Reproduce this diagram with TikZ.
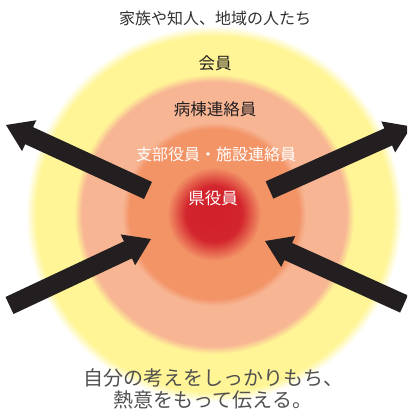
\documentclass[tikz,border=0pt]{standalone}
\usepackage{fontspec}
\newfontfamily\jp{Noto Sans CJK JP}
\usetikzlibrary{calc}
\definecolor{inktop}{RGB}{51,48,48}
\definecolor{inkdark}{RGB}{35,31,32}
\definecolor{inkbottom}{RGB}{80,80,80}
\definecolor{arrowink}{RGB}{35,31,32}
\pgfdeclareradialshading{rings}{\pgfpoint{0bp}{0bp}}{%
 rgb(0bp)=(0.816,0.125,0.169);
 rgb(3.68bp)=(0.827,0.145,0.176);
 rgb(6.18bp)=(0.953,0.580,0.404);
 rgb(11.18bp)=(0.953,0.580,0.404);
 rgb(12.1bp)=(0.969,0.710,0.580);
 rgb(17.37bp)=(0.969,0.710,0.580);
 rgb(18.42bp)=(1,0.961,0.588);
 rgb(23.42bp)=(1,0.961,0.588);
 rgb(24.74bp)=(1,1,1);
 rgb(50bp)=(1,1,1)}
\tikzset{
  lbl/.style={font=\jp\fontsize{16.5}{16.5}\selectfont, inner sep=0pt, text=inkdark},
  lblwhite/.style={lbl, text=white},
  lblbottom/.style={font=\jp\fontsize{20}{22.5}\selectfont, inner sep=0pt, text=inkbottom, align=center},
  bigarrow/.style={fill=arrowink, draw=none}
}
\newcommand{\bigarrowshape}[2]{%
  \coordinate (h) at ($(#2)!25.5pt!(#1)$);
  \fill[bigarrow] ($(#1)!9.4pt!90:(#2)$) -- ($(h)!9.4pt!90:(#2)$) -- ($(h)!17pt!90:(#2)$) -- (#2)
    -- ($(h)!17pt!-90:(#2)$) -- ($(h)!9.4pt!-90:(#2)$) -- ($(#1)!9.4pt!-90:(#2)$) -- cycle;}
\begin{document}
\begin{tikzpicture}[x=1pt,y=-1pt]
\useasboundingbox (0,0) rectangle (407,412);
\clip (0,0) rectangle (407,412);
\coordinate (C) at (214,214);
\shade[shading=rings] (C) circle (190pt);
% arrows
\coordinate (ulA) at (148,190.5); \coordinate (ulB) at (6,125);
\coordinate (urA) at (269.5,190); \coordinate (urB) at (411.5,126.5);
\coordinate (llA) at (9.5,305.5); \coordinate (llB) at (151,239);
\coordinate (lrA) at (404,304);   \coordinate (lrB) at (265,241);
\bigarrowshape{ulA}{ulB}
\bigarrowshape{urA}{urB}
\bigarrowshape{llA}{llB}
\bigarrowshape{lrA}{lrB}
% labels
\node[lbl, text=inktop, font=\jp\fontsize{16}{16}\selectfont] (t0) at (215,18.5) {家族や知人、地域の人たち};
\node[lbl] (t1) at (215,63) {会員};
\node[lbl] (t2) at (215,109) {病棟連絡員};
\node[lblwhite, font=\jp\fontsize{16}{16}\selectfont] (t3) at (216,154) {支部役員・施設連絡員};
\node[lblwhite] (t4) at (213,198) {県役員};
\node[lblbottom] (t5) at (213,389) {自分の考えをしっかりもち、\\熱意をもって伝える。};
\end{tikzpicture}
\end{document}
